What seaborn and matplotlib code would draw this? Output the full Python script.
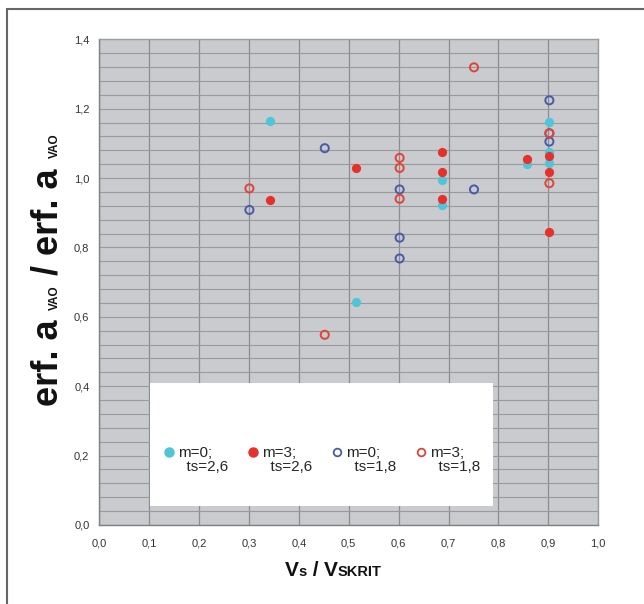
import numpy as np
import pandas as pd
import matplotlib
matplotlib.use("Agg")
import matplotlib.pyplot as plt
import seaborn as sns
from matplotlib.ticker import MultipleLocator, FuncFormatter
from matplotlib.patches import Rectangle
from matplotlib.lines import Line2D
from matplotlib.legend_handler import HandlerLine2D

# data
x_m0_26 = [0.343, 0.515, 0.686, 0.686, 0.857, 0.902, 0.902, 0.902]
y_m0_26 = [1.164, 0.643, 0.995, 0.922, 1.040, 1.162, 1.042, 1.076]

x_m3_26 = [0.343, 0.514, 0.686, 0.686, 0.686, 0.857, 0.902, 0.902, 0.902]
y_m3_26 = [0.937, 1.030, 1.075, 1.018, 0.939, 1.054, 1.064, 1.018, 0.845]

x_m0_18 = [0.301, 0.452, 0.602, 0.602, 0.602, 0.751, 0.902, 0.902, 0.902]
y_m0_18 = [0.908, 1.086, 0.967, 0.828, 0.768, 0.967, 1.224, 1.105, 1.129]

x_m3_18 = [0.301, 0.452, 0.602, 0.602, 0.602, 0.751, 0.902, 0.902]
y_m3_18 = [0.970, 0.548, 1.058, 1.029, 0.940, 1.319, 1.129, 0.985]

labels = ["m=0;\n  ts=2,6", "m=3;\n  ts=2,6", "m=0;\n  ts=1,8", "m=3;\n  ts=1,8"]

sns.set_style("white")
plt.rcParams['font.family'] = ['Liberation Sans', 'DejaVu Sans']

fig = plt.figure(figsize=(6.44, 6.04), dpi=100)
ax = fig.add_axes([0.154, 0.131, 0.775, 0.804])
ax.set_facecolor("#c9cbce")

cyan = "#4cc6d8"
red = "#e8302a"
blue = "#4a5aa8"
red_o = "#e04438"

sns.scatterplot(x=x_m0_26, y=y_m0_26, ax=ax, color=cyan, s=44, linewidth=0, zorder=3)
sns.scatterplot(x=x_m3_26, y=y_m3_26, ax=ax, color=red, s=44, linewidth=0, zorder=3)
sns.scatterplot(x=x_m0_18, y=y_m0_18, ax=ax, facecolors="none", edgecolor=blue, s=34, linewidth=1.4, zorder=3)
sns.scatterplot(x=x_m3_18, y=y_m3_18, ax=ax, facecolors="none", edgecolor=red_o, s=34, linewidth=1.4, zorder=3)

ax.set_xlim(0, 1.0)
ax.set_ylim(0, 1.4)
ax.xaxis.set_major_locator(MultipleLocator(0.1))
ax.yaxis.set_major_locator(MultipleLocator(0.2))
ax.yaxis.set_minor_locator(MultipleLocator(0.04))
comma = FuncFormatter(lambda v, p: f"{v:.1f}".replace(".", ","))
ax.xaxis.set_major_formatter(comma)
ax.yaxis.set_major_formatter(comma)
ax.set_axisbelow(True)
ax.grid(axis="x", which="major", color="#8a8d90", lw=0.9)
ax.grid(axis="y", which="both", color="#989b9e", lw=0.8)
ax.tick_params(axis="both", which="major", labelsize=8, labelcolor="#333333",
               length=3, color="#777777", width=0.8, direction="out")
ax.tick_params(axis="y", which="minor", length=0)
ax.tick_params(axis="x", pad=7)
ax.tick_params(axis="y", pad=4)
for sp in ax.spines.values():
    sp.set_color("#9a9da0")
    sp.set_linewidth(1)
ax.spines["left"].set_color("#808080")
ax.spines["bottom"].set_color("#808080")

# legend box
ax.add_patch(Rectangle((0.102, 0.055), 0.688, 0.354, facecolor="white",
                       edgecolor="none", zorder=1.5))


class UpHandler(HandlerLine2D):
    # put the marker beside the first line of the two-line label
    def create_artists(self, legend, orig_handle, xdescent, ydescent,
                       width, height, fontsize, trans):
        arts = super().create_artists(legend, orig_handle, xdescent, ydescent,
                                      width, height, fontsize, trans)
        for a in arts:
            a.set_ydata([v + fontsize * 0.55 for v in a.get_ydata()])
        return arts


handles = [
    Line2D([], [], ls="", marker="o", ms=6.5, color=cyan, mec=cyan),
    Line2D([], [], ls="", marker="o", ms=6.5, color=red, mec=red),
    Line2D([], [], ls="", marker="o", ms=5.5, mfc="none", mec=blue, mew=1.3),
    Line2D([], [], ls="", marker="o", ms=5.5, mfc="none", mec=red_o, mew=1.3),
]
leg = ax.legend(handles, labels, loc="center", bbox_to_anchor=(0.447, 0.134), ncol=4,
                frameon=False, fontsize=11, handlelength=0.6, handletextpad=0.3,
                columnspacing=1.3, handler_map={Line2D: UpHandler()})
for t in leg.get_texts():
    t.set_linespacing(1.05)

# axis titles with small "subscripts" on the baseline
fig.canvas.draw()
renderer = fig.canvas.get_renderer()


def piece_text(pieces, x0, y0, vertical):
    texts = []
    for s, size in pieces:
        t = fig.text(0, 0, s, fontsize=size, fontweight="bold", color="#111111",
                     rotation=90 if vertical else 0, rotation_mode="anchor",
                     ha="left", va="baseline")
        texts.append(t)
    lens = []
    for t in texts:
        bb = t.get_window_extent(renderer)
        lens.append(bb.height if vertical else bb.width)
    total = sum(lens)
    pos = (y0 if vertical else x0) - total / 2
    for t, L in zip(texts, lens):
        if vertical:
            t.set_position((x0 / fig.bbox.width, pos / fig.bbox.height))
        else:
            t.set_position((pos / fig.bbox.width, y0 / fig.bbox.height))
        pos += L


big_x, small_x = 15, 10.5
piece_text([("V", big_x), ("s", small_x), (" / ", big_x), ("V", big_x), ("SKRIT", small_x)],
           333, 604 - 576, vertical=False)
big_y, small_y = 26, 8.5
piece_text([("erf. a ", big_y), ("VAO", small_y), (" / erf. a ", big_y), ("VAO", small_y)],
           58, 604 - 270, vertical=True)

# outer frame lines
fig.add_artist(Line2D([0.011, 1.0], [0.985, 0.985], transform=fig.transFigure, color="#666666", lw=1.5))
fig.add_artist(Line2D([0.011, 0.011], [0.0, 0.985], transform=fig.transFigure, color="#666666", lw=1.5))

fig.savefig("out.png", dpi=100)
